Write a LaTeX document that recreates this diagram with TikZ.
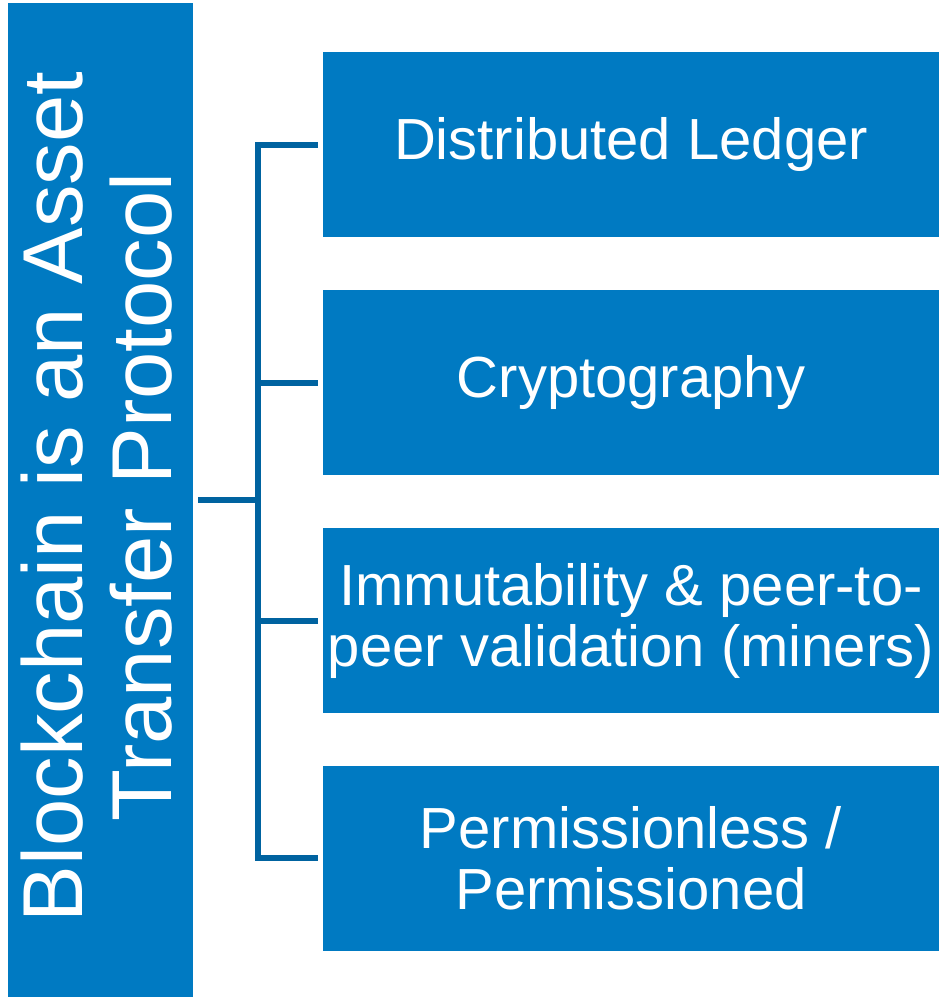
\documentclass[tikz,border=0pt]{standalone}
\usepackage{fontspec}
\setmainfont{Liberation Sans}
\definecolor{boxblue}{RGB}{0,122,194}
\definecolor{connblue}{RGB}{0,99,160}
\tikzset{
  leftbox/.style={fill=boxblue, draw=none, minimum width=185pt, minimum height=994pt, inner sep=0pt},
  itembox/.style={fill=boxblue, draw=none, minimum width=616pt, minimum height=185pt, inner sep=0pt,
    text=white, align=center, font=\fontsize{58}{61}\selectfont},
  lefttext/.style={text=white, align=center, rotate=90, inner sep=0pt, font=\fontsize{85}{89}\selectfont},
  conn/.style={draw=connblue, line width=6pt}
}
\begin{document}
\begin{tikzpicture}[x=1pt, y=-1pt]
\useasboundingbox (0,0) rectangle (939,998);
\node[leftbox] (L) at (100.5,500) {};
\node[lefttext] (Lt) at (96.5,497) {Blockchain is an Asset\\Transfer Protocol};
\node[itembox] (b1) at (631,144.5) {Distributed Ledger};
\node[itembox] (b2) at (631,382.5) {Cryptography};
\node[itembox] (b3) at (631,620.5) {Immutability \& peer-to-\\peer validation (miners)};
\node[itembox] (b4) at (631,858) {Permissionless /\\Permissioned};
\coordinate (j) at ([xshift=-65pt]b1.west |- L.east);
\draw[conn] ([xshift=5pt]L.east) -- (j);
\draw[conn] ([xshift=-5pt]b1.west) -| ([xshift=-65pt]b4.west) -- ([xshift=-5pt]b4.west);
\draw[conn] ([xshift=-5pt]b2.west) -- ([xshift=-65pt]b2.west);
\draw[conn] ([xshift=-5pt]b3.west) -- ([xshift=-65pt]b3.west);
\end{tikzpicture}
\end{document}
